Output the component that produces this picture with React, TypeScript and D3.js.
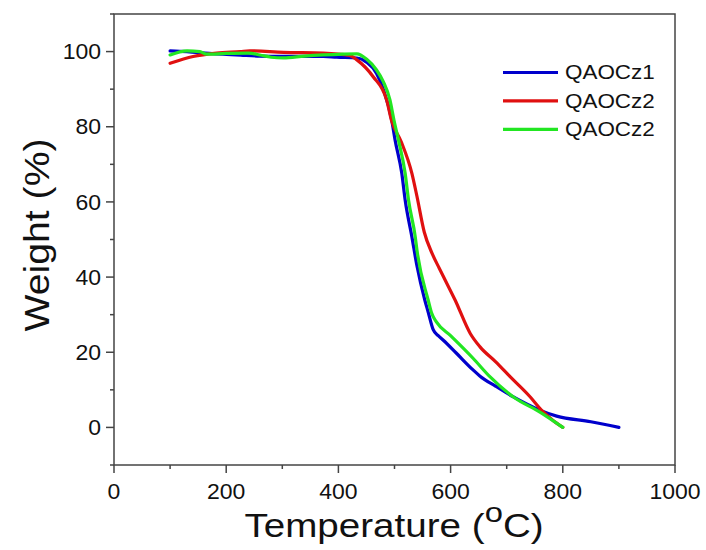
import React from "react";
import * as d3 from "d3";

const seriesNames = ["QAOCz1", "QAOCz2", "QAOCz2"];
const seriesColors = ["#0000cc", "#e01010", "#22e622"];

const blueTemp = [100, 130, 170, 230, 260, 300, 373, 397, 433, 450, 468, 480, 495, 501, 513, 519, 531, 540, 554, 560, 569, 578, 587, 610, 640, 652, 680, 712, 759, 789, 850, 900];
const blueWeight = [100.2, 100, 99.5, 99.0, 98.8, 98.7, 98.7, 98.5, 98.3, 97.2, 94.2, 90, 81.8, 76.5, 67.6, 60.5, 50.7, 43, 33.9, 30.7, 26, 24.4, 23.2, 19.8, 15.3, 13.7, 11, 8.1, 4.6, 3.0, 1.5, 0];

const redTemp = [100, 141, 183, 225, 242, 302, 373, 420, 433, 462, 486, 495, 512, 531, 540, 553, 567, 580, 590, 608, 635, 652, 680, 706, 742, 762, 780, 800];
const redWeight = [96.9, 98.7, 99.6, 100, 100.2, 99.8, 99.6, 99.0, 97.8, 93.3, 87.1, 81.5, 76, 67.6, 61.5, 52, 46.3, 42.3, 39.3, 33.9, 25, 21.5, 17.5, 13.5, 8.1, 4.6, 2.2, 0];

const greenTemp = [100, 130, 153, 165, 200, 240, 260, 280, 302, 340, 373, 433, 450, 468, 480, 492, 499, 507, 519, 525, 537, 540, 560, 566, 575, 600, 640, 670, 712, 760, 800];
const greenWeight = [99.1, 100.2, 100, 99.3, 99.5, 99.6, 99.1, 98.5, 98.3, 98.8, 99.1, 99.4, 98, 95.1, 92, 87.1, 81.8, 76.5, 67.6, 60.5, 50.7, 47.2, 33.9, 30.5, 28, 24.4, 18.4, 13.5, 8.1, 4.0, 0];

const xTicks = [0, 200, 400, 600, 800, 1000];
const xMinor = [100, 300, 500, 700, 900];
const yTicks = [0, 20, 40, 60, 80, 100];
const yMinor = [-10, 10, 30, 50, 70, 90, 110];

const W = 706;
const H = 550;

export default function App() {
  const x = d3.scaleLinear().domain([0, 1000]).range([114, 675]);
  const y = d3.scaleLinear().domain([-10, 110]).range([465, 14]);

  const series = [
    { temp: blueTemp, weight: blueWeight },
    { temp: redTemp, weight: redWeight },
    { temp: greenTemp, weight: greenWeight },
  ];

  const line = d3
    .line<[number, number]>()
    .x((d) => x(d[0]))
    .y((d) => y(d[1]))
    .curve(d3.curveMonotoneX);

  const font = "'Liberation Sans', Arial, sans-serif";
  const axisColor = "#444";
  const [x0, x1] = x.range();
  const [y0, y1] = y.range();

  return (
    <svg
      width={W}
      height={H}
      style={{ position: "absolute", left: 0, top: 0, background: "#fff" }}
      fontFamily={font}
    >
      <rect x={0} y={0} width={W} height={H} fill="#fff" />
      {series.map((s, i) => (
        <path
          key={i}
          d={line(s.temp.map((t, j) => [t, s.weight[j]] as [number, number])) || ""}
          fill="none"
          stroke={seriesColors[i]}
          strokeWidth={3.2}
          strokeLinejoin="round"
          strokeLinecap="round"
        />
      ))}
      <rect x={x0} y={y1} width={x1 - x0} height={y0 - y1} fill="none" stroke={axisColor} strokeWidth={1.5} />
      {xTicks.map((t) => (
        <g key={"xt" + t}>
          <line x1={x(t)} x2={x(t)} y1={y0} y2={y0 + 8} stroke={axisColor} strokeWidth={1.5} />
          <text
            transform={`translate(${x(t)}, ${y0 + 33.5}) scale(1.07, 1)`}
            textAnchor="middle"
            fontSize={21.5}
            fill="#111"
          >
            {t}
          </text>
        </g>
      ))}
      {xMinor.map((t) => (
        <line key={"xm" + t} x1={x(t)} x2={x(t)} y1={y0} y2={y0 + 4} stroke={axisColor} strokeWidth={1.5} />
      ))}
      {yTicks.map((t) => (
        <g key={"yt" + t}>
          <line x1={x0 - 8} x2={x0} y1={y(t)} y2={y(t)} stroke={axisColor} strokeWidth={1.5} />
          <text
            transform={`translate(${x0 - 13}, ${y(t) + 7.6}) scale(1.07, 1)`}
            textAnchor="end"
            fontSize={21.5}
            fill="#111"
          >
            {t}
          </text>
        </g>
      ))}
      {yMinor.map((t) => (
        <line key={"ym" + t} x1={x0 - 4} x2={x0} y1={y(t)} y2={y(t)} stroke={axisColor} strokeWidth={1.5} />
      ))}
      <text
        transform={`translate(49, 235) rotate(-90) scale(1.12, 1)`}
        textAnchor="middle"
        fontSize={35}
        fill="#111"
      >
        Weight (%)
      </text>
      <text
        transform={`translate(394, 536.7) scale(1.17, 1)`}
        textAnchor="middle"
        fontSize={33}
        fill="#111"
      >
        Temperature (<tspan dy={-15} fontSize={28}>o</tspan>
        <tspan dy={15}>C)</tspan>
      </text>
      {seriesNames.map((n, i) => (
        <g key={"lg" + i}>
          <line x1={503} x2={558} y1={72.5 + i * 28.4} y2={72.5 + i * 28.4} stroke={seriesColors[i]} strokeWidth={3.2} />
          <text
            transform={`translate(565, ${72.5 + i * 28.4 + 6.8}) scale(1.15, 1)`}
            fontSize={19.5}
            fill="#111"
          >
            {n}
          </text>
        </g>
      ))}
    </svg>
  );
}
